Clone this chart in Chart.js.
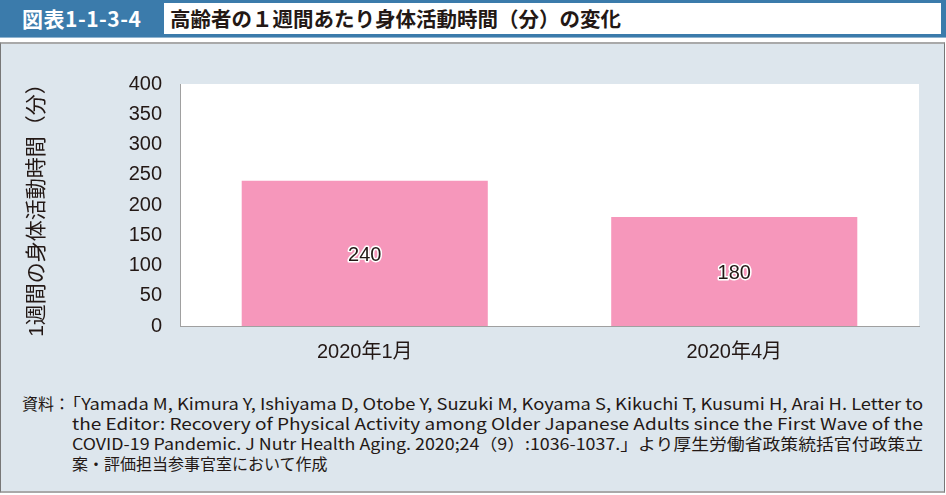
<!DOCTYPE html>
<html lang="ja">
<head>
<meta charset="utf-8">
<script src="https://cdn.jsdelivr.net/npm/chart.js@4/dist/chart.umd.min.js"></script>
<style>
    html, body {
        margin: 0;
        padding: 0;
        width: 946px;
        height: 495px;
        overflow: hidden;
        background: #ffffff;
        font-family: "Noto Sans CJK JP", "Liberation Sans", sans-serif;
    }

    .title-bar {
        position: absolute;
        left: 0;
        top: 0;
        width: 946px;
        height: 38px;
        background: #3b7bab;
        border-bottom: 1px solid #8fb3cf;
        box-sizing: border-box;
    }

    .title-bar .num {
        position: absolute;
        left: 22px;
        top: 3px;
        height: 31px;
        line-height: 31px;
        color: #ffffff;
        font-size: 21px;
        font-weight: bold;
        letter-spacing: 0.5px;
    }

    .title-bar .text {
        position: absolute;
        left: 164px;
        top: 3px;
        width: 777px;
        height: 31px;
        line-height: 31px;
        background: #ffffff;
        color: #231815;
        font-size: 20.5px;
        font-weight: bold;
        padding-left: 6px;
        box-sizing: border-box;
    }

    .panel {
        position: absolute;
        left: 0;
        top: 42px;
        width: 945px;
        height: 451px;
        background: #dde6ed;
        border: 1px solid #777777;
        border-top: 2px solid #a9a9a9;
        border-bottom: 2px solid #a9a9a9;
        box-sizing: border-box;
    }

    .chart-box {
        position: absolute;
        left: 0;
        top: 0;
        width: 946px;
        height: 380px;
    }

    .source {
        position: absolute;
        left: 22px;
        top: 393px;
        width: 904px;
        color: #231815;
        font-size: 16px;
        line-height: 20px;
    }

    .source .label {
        position: absolute;
        left: 0;
        top: 0;
    }

    .source .line {
        position: absolute;
        left: 50px;
        white-space: nowrap;
        transform-origin: 0 0;
    }

    .source .br {
        margin-left: -0.5em;
    }
</style>
</head>
<body>
<div class="title-bar">
    <div class="num">図表1-1-3-4</div>
    <div class="text">高齢者の１週間あたり身体活動時間（分）の変化</div>
</div>
<div class="panel"></div>
<div class="chart-box"><canvas id="activityBar"></canvas></div>
<div class="source">
    <div class="label">資料：</div>
    <div class="line" data-w="851" style="top:0px;"><span class="br">「</span>Yamada M, Kimura Y, Ishiyama D, Otobe Y, Suzuki M, Koyama S, Kikuchi T, Kusumi H, Arai H. Letter to</div>
    <div class="line" data-w="851" style="top:20px;">the Editor: Recovery of Physical Activity among Older Japanese Adults since the First Wave of the</div>
    <div class="line" data-w="851" style="top:40px;">COVID-19 Pandemic. J Nutr Health Aging. 2020;24（9）:1036-1037.」より厚生労働省政策統括官付政策立</div>
    <div class="line" style="top:60px;">案・評価担当参事官室において作成</div>
</div>

<script>
const categories = ['2020年1月', '2020年4月'];
const minutesPerWeek = [240, 180];
const yTicks = [0, 50, 100, 150, 200, 250, 300, 350, 400];
const yTitle = '1週間の身体活動時間（分）';

// 行を右端にそろえる
document.querySelectorAll('.source .line[data-w]').forEach(el => {
    const target = Number(el.dataset.w);
    const w = el.getBoundingClientRect().width;
    el.style.transform = 'scaleX(' + (target / w) + ')';
});

const fontFamily = '"Liberation Sans", "Noto Sans CJK JP", sans-serif';

const plotBackground = {
    id: 'plotBackground',
    beforeDraw(chart) {
        const {ctx, chartArea} = chart;
        ctx.save();
        ctx.fillStyle = '#ffffff';
        ctx.fillRect(chartArea.left, chartArea.top, chartArea.right - chartArea.left, chartArea.bottom - chartArea.top);
        ctx.restore();
    }
};

const valueLabels = {
    id: 'valueLabels',
    afterDatasetsDraw(chart) {
        const {ctx} = chart;
        const meta = chart.getDatasetMeta(0);
        ctx.save();
        ctx.font = '20px ' + fontFamily;
        ctx.textAlign = 'center';
        ctx.textBaseline = 'middle';
        ctx.lineJoin = 'round';
        meta.data.forEach((bar, i) => {
            const y = (bar.y + bar.base) / 2 + 2;
            const txt = String(chart.data.datasets[0].data[i]);
            ctx.strokeStyle = '#ffffff';
            ctx.lineWidth = 3;
            ctx.strokeText(txt, bar.x, y);
            ctx.fillStyle = '#231815';
            ctx.fillText(txt, bar.x, y);
        });
        ctx.restore();
    }
};

const ctx = document.getElementById('activityBar').getContext('2d');
new Chart(ctx, {
    type: 'bar',
    data: {
        labels: categories,
        datasets: [{
            data: minutesPerWeek,
            backgroundColor: '#f697bb',
            borderWidth: 0,
            barPercentage: 0.666,
            categoryPercentage: 1.0
        }]
    },
    options: {
        responsive: true,
        maintainAspectRatio: false,
        animation: false,
        layout: {
            padding: {top: 84, right: 27, bottom: 0, left: 0}
        },
        plugins: {
            legend: {display: false},
            tooltip: {enabled: false}
        },
        scales: {
            x: {
                grid: {display: false},
                border: {display: true, color: '#a0a0a0', width: 1},
                ticks: {
                    color: '#231815',
                    font: {size: 20, family: fontFamily},
                    padding: 6
                },
                afterFit: s => { s.height = 54; }
            },
            y: {
                min: 0,
                max: 400,
                grid: {display: false},
                border: {display: true, color: '#a0a0a0', width: 1},
                afterBuildTicks: s => { s.ticks = yTicks.map(v => ({value: v})); },
                ticks: {
                    color: '#231815',
                    font: {size: 20, family: fontFamily},
                    padding: 10
                },
                title: {
                    display: true,
                    text: yTitle,
                    color: '#231815',
                    font: {size: 21, family: fontFamily},
                    padding: {top: 25, bottom: 0}
                },
                afterFit: s => { s.width = 180; }
            }
        }
    },
    plugins: [plotBackground, valueLabels]
});
</script>
</body>
</html>
